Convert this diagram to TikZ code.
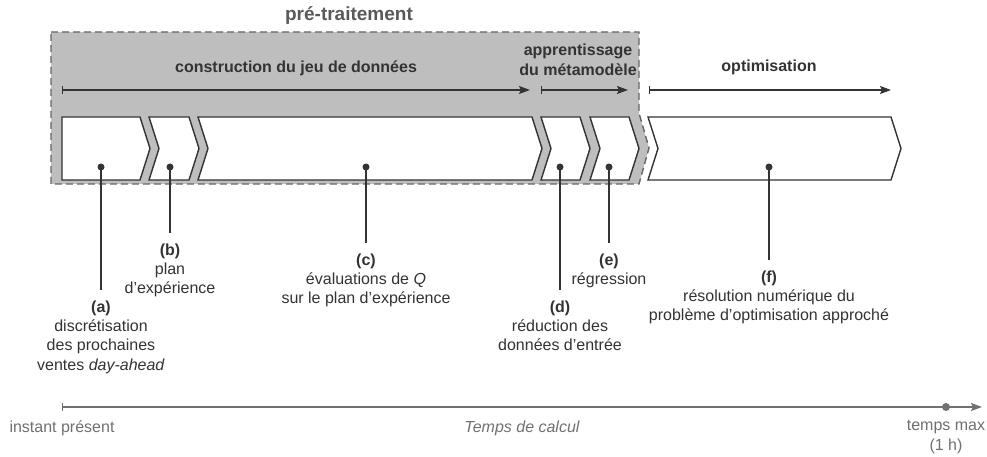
\documentclass[tikz,border=0pt]{standalone}
\usepackage{fontspec}
\setmainfont{Liberation Sans}
\usepackage{tikz}
\usetikzlibrary{arrows.meta}
\definecolor{ink}{HTML}{333333}
\definecolor{shade}{HTML}{BEBEBE}
\definecolor{frame}{HTML}{666666}
\definecolor{title}{HTML}{595959}
\definecolor{axis}{HTML}{707070}

\begin{document}
\begin{tikzpicture}[x=1pt,y=-1pt,
  chev/.style={draw=ink,fill=white,line width=1.4pt},
  phase/.style={ink,line width=1.4pt,{Bar[width=8pt]}-{Stealth[length=11pt,width=8pt,inset=2pt]}},
  lead/.style={ink,line width=1.4pt},
  lbl/.style={align=center,text=ink,font=\fontsize{16}{19.3}\selectfont,inner xsep=0pt,inner ysep=10.5pt,anchor=north},
  head/.style={align=center,text=ink,font=\bfseries\fontsize{16}{20}\selectfont}]
  \useasboundingbox (0,0) rectangle (987,457);
  % shaded pre-processing block
  \path[fill=shade,draw=frame,line width=1.4pt,dash pattern=on 7pt off 4pt]
    (51,32) -- (639,32) -- (639,113) -- (649,148) -- (639,184) -- (51,184) -- cycle;
  \node[text=title,font=\bfseries\fontsize{19}{22}\selectfont] (pre) at (349,16) {pré-traitement};
  \node[head] (construct) at (296,68) {construction du jeu de données};
  \node[head] (learn) at (578,60) {apprentissage\\du métamodèle};
  \node[head] (optim) at (769,67) {optimisation};
  % phase arrows
  \foreach \n/\a/\b in {c/62/530, l/541/628, o/649/891}{
    \coordinate (\n0) at (\a,90);
    \coordinate (\n1) at (\b,90);
    \draw[phase] (\n0) -- (\n1);
  }
  % chevrons
  \draw[chev] (62,117) -- (140,117) -- (150,148.5) -- (140,180) -- (62,180) -- cycle;
  \foreach \a/\b in {149/189, 198/532, 541/580, 590/629, 648/891}{
    \draw[chev] (\a,117) -- (\b,117) -- (\b+10,148.5) -- (\b,180) -- (\a,180) -- (\a+10,148.5) -- cycle;
  }
  % steps
  \foreach \n/\x/\y/\txt in {
      a/101/290/{\textbf{(a)}\\discrétisation\\des prochaines\\ventes \textit{day-ahead}},
      b/170/233/{\textbf{(b)}\\plan\\d’expérience},
      c/366/243/{\textbf{(c)}\\évaluations de \textit{Q}\\sur le plan d’expérience},
      d/560/290/{\textbf{(d)}\\réduction des\\données d’entrée},
      e/609/243/{\textbf{(e)}\\régression},
      f/769/260/{\textbf{(f)}\\résolution numérique du\\problème d’optimisation approché}}{
    \coordinate (d\n) at (\x,167);
    \node[lbl] (l\n) at (\x,\y) {\txt};
    \draw[lead] (d\n) -- (l\n.north);
    \fill[ink] (d\n) circle[radius=3.5pt];
  }
  % time axis
  \coordinate (t0) at (62,407);
  \coordinate (t1) at (982,407);
  \coordinate (tmax) at (946,407);
  \draw[axis,line width=1.4pt,{Bar[width=8pt]}-{Stealth[length=11pt,width=8pt,inset=2pt]}] (t0) -- (t1);
  \fill[axis] (tmax) circle[radius=4pt];
  \node[text=axis,font=\fontsize{16}{19.3}\selectfont] (now) at (62,428) {instant présent};
  \node[text=axis,font=\itshape\fontsize{16}{19.3}\selectfont] (calc) at (522,428) {Temps de calcul};
  \node[text=axis,align=center,font=\fontsize{16}{19.3}\selectfont] (maxlbl) at (946,437) {temps max\\(1 h)};
\end{tikzpicture}
\end{document}
